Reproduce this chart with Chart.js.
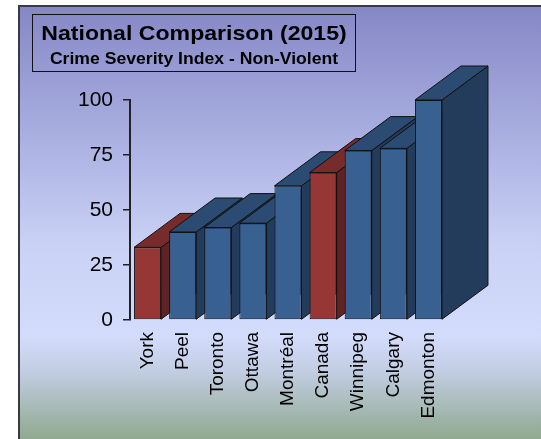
<!DOCTYPE html>
<html>
<head>
<meta charset="utf-8">
<script src="https://cdn.jsdelivr.net/npm/chart.js@4.4.1/dist/chart.umd.min.js"></script>
<style>
  body { margin: 0; background: #fff; }
  canvas { display: block; }
</style>
</head>
<body>
<canvas id="csiChart" width="541" height="439"></canvas>
<script>
// Crime Severity Index, non-violent, 2015
const cities = ['York', 'Peel', 'Toronto', 'Ottawa', 'Montréal', 'Canada', 'Winnipeg', 'Calgary', 'Edmonton'];
const csiValues = [33, 40, 42, 44, 61, 67, 77, 78, 100];
const highlighted = ['York', 'Canada'];
const yTicks = [0, 25, 50, 75, 100];

const titleText = 'National Comparison (2015)';
const subtitleText = 'Crime Severity Index - Non-Violent';

const FONT = '"Liberation Sans", Arial, sans-serif';
const DEPTH_X = 46, DEPTH_Y = -34;

const faces = {
  blue: { front: '#386191', top: '#2b4b72', side: '#233c5c' },
  red:  { front: '#963635', top: '#772b2b', side: '#602323' }
};
const palette = cities.map(c => highlighted.includes(c) ? faces.red : faces.blue);

// background panel with its frame
const backdrop = {
  id: 'backdrop',
  beforeDraw(chart) {
    const { ctx, width, height } = chart;
    ctx.save();
    ctx.fillStyle = '#fff';
    ctx.fillRect(0, 0, width, height);
    const g = ctx.createLinearGradient(0, 5, 0, height);
    g.addColorStop(0, '#8587c5');
    g.addColorStop(0.25, '#a3a8dc');
    g.addColorStop(0.55, '#c9d1f5');
    g.addColorStop(0.76, '#d4dcfc');
    g.addColorStop(0.84, '#c3cee4');
    g.addColorStop(1, '#90a98f');
    ctx.fillStyle = g;
    ctx.fillRect(18, 5, width - 18, height - 5);
    ctx.strokeStyle = '#3a3a44';
    ctx.lineWidth = 2;
    ctx.beginPath();
    ctx.moveTo(19, height);
    ctx.lineTo(19, 6);
    ctx.lineTo(width, 6);
    ctx.stroke();
    ctx.restore();
  }
};

// top and side faces of each bar, left to right, under the fronts
const bars3d = {
  id: 'bars3d',
  beforeDatasetsDraw(chart) {
    const { ctx } = chart;
    const meta = chart.getDatasetMeta(0);
    ctx.save();
    ctx.lineWidth = 1;
    ctx.strokeStyle = '#111';
    ctx.lineJoin = 'round';
    meta.data.forEach((bar, i) => {
      const x0 = bar.x - bar.width / 2;
      const x1 = bar.x + bar.width / 2;
      const top = bar.y, base = bar.base;
      const c = palette[i];
      ctx.fillStyle = c.side;
      ctx.beginPath();
      ctx.moveTo(x1, top);
      ctx.lineTo(x1 + DEPTH_X, top + DEPTH_Y);
      ctx.lineTo(x1 + DEPTH_X, base + DEPTH_Y);
      ctx.lineTo(x1, base);
      ctx.closePath();
      ctx.fill();
      ctx.stroke();
      ctx.fillStyle = c.top;
      ctx.beginPath();
      ctx.moveTo(x0, top);
      ctx.lineTo(x1, top);
      ctx.lineTo(x1 + DEPTH_X, top + DEPTH_Y);
      ctx.lineTo(x0 + DEPTH_X, top + DEPTH_Y);
      ctx.closePath();
      ctx.fill();
      ctx.stroke();
    });
    ctx.restore();
  }
};

// boxed title block, text slightly widened
const titleBox = {
  id: 'titleBox',
  afterDraw(chart) {
    const { ctx } = chart;
    ctx.save();
    ctx.strokeStyle = '#111';
    ctx.lineWidth = 1;
    ctx.strokeRect(32.5, 14.5, 323, 57);
    ctx.fillStyle = '#000';
    ctx.textAlign = 'center';
    ctx.textBaseline = 'alphabetic';
    ctx.translate(194, 0);
    ctx.scale(1.1, 1);
    ctx.font = 'bold 21px ' + FONT;
    ctx.fillText(titleText, 0, 40);
    ctx.font = 'bold 16px ' + FONT;
    ctx.fillText(subtitleText, 0, 64);
    ctx.restore();
  }
};

new Chart(document.getElementById('csiChart'), {
  type: 'bar',
  data: {
    labels: cities,
    datasets: [{
      data: csiValues,
      backgroundColor: palette.map(c => c.front),
      borderColor: '#111',
      borderWidth: 1,
      borderSkipped: false,
      categoryPercentage: 1,
      barPercentage: 0.77
    }]
  },
  options: {
    responsive: false,
    animation: false,
    layout: { padding: { left: 0, top: 100, right: 95, bottom: 0 } },
    plugins: {
      legend: { display: false },
      tooltip: { enabled: false }
    },
    scales: {
      x: {
        grid: { display: false, drawTicks: false },
        border: { display: false },
        ticks: {
          autoSkip: false,
          minRotation: 90,
          maxRotation: 90,
          padding: 12,
          color: '#000',
          font: { family: FONT, size: 19 }
        },
        afterFit(s) { s.height = 119; }
      },
      y: {
        min: 0,
        max: 100,
        afterBuildTicks(s) { s.ticks = yTicks.map(v => ({ value: v })); },
        grid: { drawOnChartArea: false, drawTicks: true, tickLength: 7, color: '#222', lineWidth: 1.5 },
        border: { display: true, color: '#222', width: 2 },
        ticks: {
          padding: 10,
          color: '#000',
          font: { family: FONT, size: 21 }
        },
        afterFit(s) { s.width = 130; }
      }
    }
  },
  plugins: [backdrop, bars3d, titleBox]
});
</script>
</body>
</html>
